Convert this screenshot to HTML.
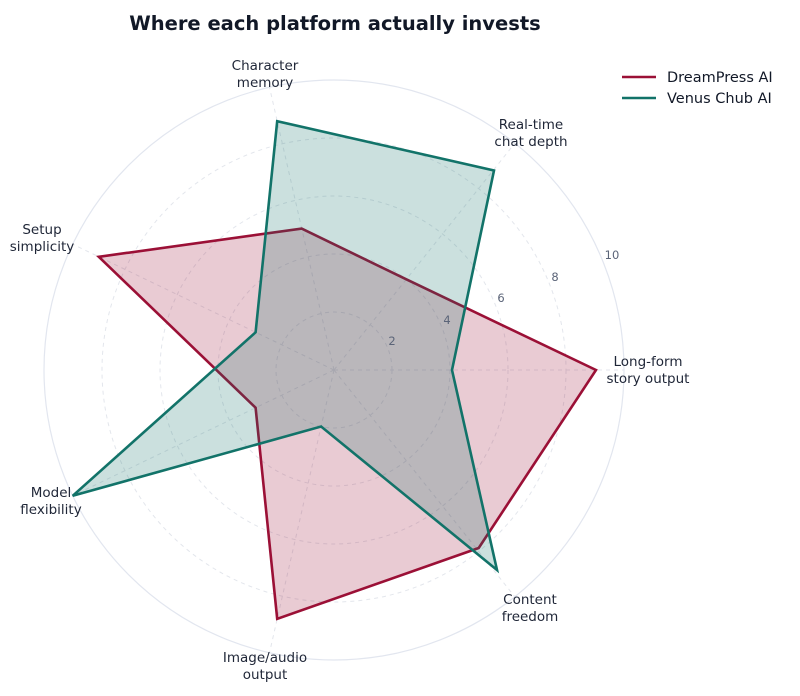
<!DOCTYPE html>
<html><head><meta charset="utf-8"><style>
html,body{margin:0;padding:0;background:#fff;}
svg{display:block;font-family:"DejaVu Sans","Liberation Sans",sans-serif;}
</style></head><body>
<svg width="800" height="696" viewBox="0 0 800 696" xmlns="http://www.w3.org/2000/svg">
<rect width="800" height="696" fill="#fff"/>
<text x="335" y="30" text-anchor="middle" font-size="19.5" font-weight="bold" fill="#111827">Where each platform actually invests</text>
<g fill="none" stroke="#e3e6ec" stroke-width="1" stroke-dasharray="4,4">
<circle cx="334" cy="370" r="58"/>
<circle cx="334" cy="370" r="116"/>
<circle cx="334" cy="370" r="174"/>
<circle cx="334" cy="370" r="232"/>
<line x1="334" y1="370" x2="624" y2="370"/>
<line x1="334" y1="370" x2="514.8" y2="143.3"/>
<line x1="334" y1="370" x2="269.5" y2="87.3"/>
<line x1="334" y1="370" x2="72.7" y2="244.2"/>
<line x1="334" y1="370" x2="72.7" y2="495.8"/>
<line x1="334" y1="370" x2="269.5" y2="652.7"/>
<line x1="334" y1="370" x2="514.8" y2="596.7"/>
</g>
<circle cx="334" cy="370" r="290" fill="none" stroke="#e2e6ef" stroke-width="1.2"/>
<polygon points="596,370 406.3,279.3 301.7,228.6 98.8,256.8 255.6,407.7 277.2,618.8 478.7,548" fill="rgba(155,16,54,0.22)" stroke="#9b1036" stroke-width="2.6" stroke-linejoin="miter"/>
<polygon points="452,370 494,170.5 277.2,121.2 255.6,332.3 72.7,495.8 321.1,426.5 497,570" fill="rgba(18,115,105,0.22)" stroke="#127369" stroke-width="2.6" stroke-linejoin="miter"/>
<g font-size="11.5" fill="#5b6478" text-anchor="middle">
<text x="392" y="345">2</text>
<text x="447" y="324">4</text>
<text x="501" y="302">6</text>
<text x="555" y="281">8</text>
<text x="612" y="259">10</text>
</g>
<g font-size="13.5" fill="#1f2637" text-anchor="middle">
<text x="648" y="366">Long-form</text><text x="648" y="383">story output</text>
<text x="531" y="129">Real-time</text><text x="531" y="146">chat depth</text>
<text x="265" y="70">Character</text><text x="265" y="87">memory</text>
<text x="42" y="234">Setup</text><text x="42" y="251">simplicity</text>
<text x="51" y="497">Model</text><text x="51" y="514">flexibility</text>
<text x="265" y="662">Image/audio</text><text x="265" y="679">output</text>
<text x="530" y="604">Content</text><text x="530" y="621">freedom</text>
</g>
<line x1="622" y1="77" x2="656" y2="77" stroke="#9b1036" stroke-width="2.6"/>
<line x1="622" y1="98" x2="656" y2="98" stroke="#127369" stroke-width="2.6"/>
<text x="667" y="82" font-size="14.5" fill="#111827">DreamPress AI</text>
<text x="667" y="103" font-size="14.5" fill="#111827">Venus Chub AI</text>
</svg>
</body></html>
